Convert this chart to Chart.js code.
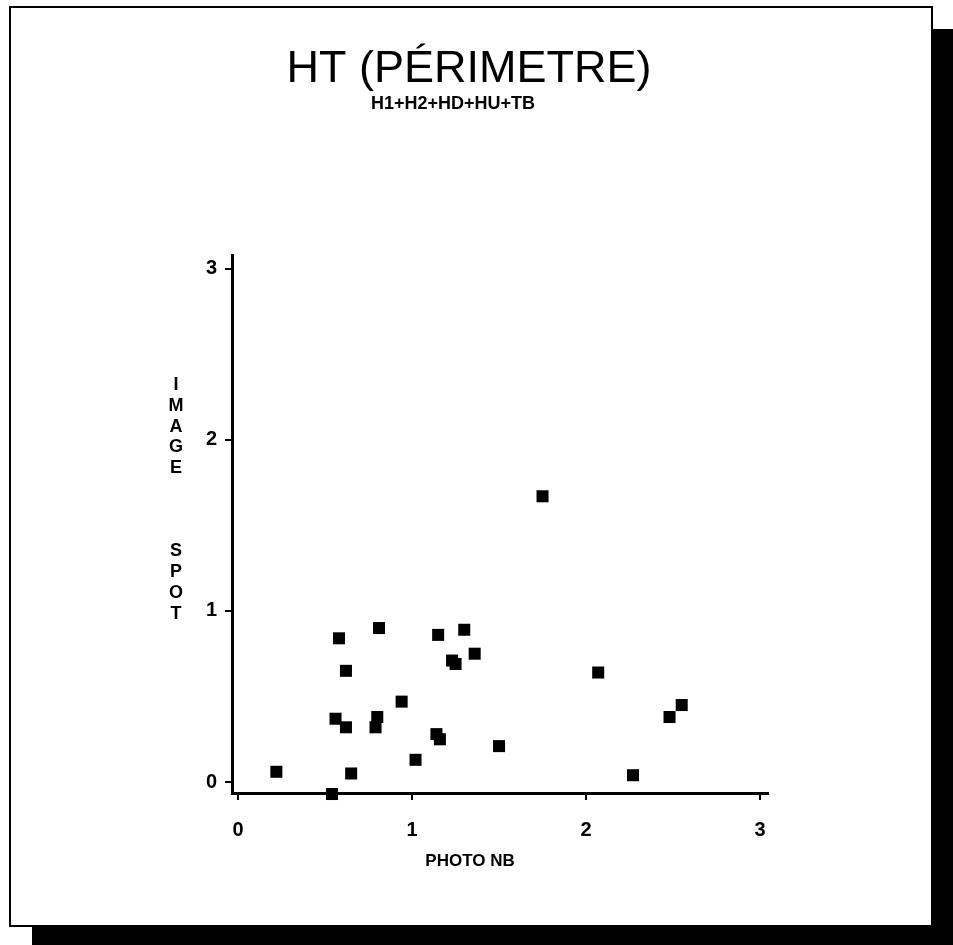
<!DOCTYPE html>
<html>
<head>
<meta charset="utf-8">
<title>HT (PÉRIMETRE)</title>
<script src="https://cdn.jsdelivr.net/npm/chart.js@4.4.1/dist/chart.umd.min.js"></script>
<style>
  html, body { margin: 0; padding: 0; background: #fff; }
  body { width: 953px; height: 945px; position: relative; overflow: hidden; }
  #shadow { position: absolute; left: 32px; top: 29px; width: 921px; height: 916px; background: #000; }
  #frame { position: absolute; left: 9px; top: 6px; width: 920px; height: 917px; border: 2px solid #000; background: #fff; }
  #wrap { position: absolute; left: 0; top: 0; width: 953px; height: 945px; }
</style>
</head>
<body>
<div id="shadow"></div>
<div id="frame"></div>
<div id="wrap"><canvas id="myChart"></canvas></div>
<script>
// values
let photoNB = [0.22, 0.54, 0.65, 0.58, 0.62, 0.56, 0.62, 0.81, 0.80, 0.79, 0.94, 1.02, 1.15,
               1.30, 1.23, 1.25, 1.36, 1.14, 1.16, 1.50, 1.75, 2.07, 2.55, 2.48, 2.27];
let imageSpot = [0.06, -0.07, 0.05, 0.84, 0.65, 0.37, 0.32, 0.90, 0.38, 0.32, 0.47, 0.13, 0.86,
                 0.89, 0.71, 0.69, 0.75, 0.28, 0.25, 0.21, 1.67, 0.64, 0.45, 0.38, 0.04];

let xTicks = [0, 1, 2, 3];
let yTicks = [0, 1, 2, 3];

let titleText = "HT (PÉRIMETRE)";
let subtitleText = "H1+H2+HD+HU+TB";
let xTitle = "PHOTO NB";
let yTitleLines = ["I", "M", "A", "G", "E", "", "", "", "S", "P", "O", "T"];

let ctx = document.getElementById("myChart");
let fontFamily = "'Liberation Sans', Arial, Helvetica, sans-serif";

let points = photoNB.map((x, i) => ({ x: x, y: imageSpot[i] }));

// title, subtitle and the stacked axis labels sit at fixed spots in the original
let textPlugin = {
    id: 'texts',
    afterDraw(chart) {
        let c = chart.ctx;
        c.save();
        c.fillStyle = '#000';
        c.textAlign = 'center';
        c.textBaseline = 'alphabetic';

        c.font = "45px " + fontFamily;
        c.fillText(titleText, 469, 82);

        c.font = "bold 18px " + fontFamily;
        c.fillText(subtitleText, 453, 109);

        c.font = "bold 17px " + fontFamily;
        c.fillText(xTitle, 470, 866);

        c.font = "bold 18px " + fontFamily;
        for (let i = 0; i < yTitleLines.length; i++) {
            c.fillText(yTitleLines[i], 176, 390 + i * 20.8);
        }
        c.restore();
    }
};

let myChart = new Chart(ctx, {
    type: 'scatter',
    data: {
        datasets: [{
            data: points,
            pointStyle: 'rect',
            radius: 8.5,
            backgroundColor: '#000',
            borderWidth: 0,
            clip: false
        }]
    },
    options: {
        responsive: true,
        maintainAspectRatio: false,
        animation: false,
        events: [],
        layout: {
            padding: { left: 0, right: 185, top: 255, bottom: 92 }
        },
        scales: {
            x: {
                type: 'linear',
                min: -0.035,
                max: 3.046,
                afterBuildTicks: (scale) => { scale.ticks = xTicks.map(v => ({ value: v })); },
                afterFit: (scale) => { scale.height = 60; },
                border: { display: true, color: '#000', width: 3 },
                grid: { drawOnChartArea: false, drawTicks: true, color: '#000', lineWidth: 2, tickLength: 7 },
                ticks: {
                    color: '#000',
                    padding: 18,
                    maxRotation: 0,
                    font: { family: fontFamily, size: 20, weight: 'bold' },
                    callback: (v) => String(v)
                }
            },
            y: {
                type: 'linear',
                min: -0.064,
                max: 3.08,
                afterBuildTicks: (scale) => { scale.ticks = yTicks.map(v => ({ value: v })); },
                afterFit: (scale) => { scale.width = 232; },
                border: { display: true, color: '#000', width: 3 },
                grid: { drawOnChartArea: false, drawTicks: true, color: '#000', lineWidth: 2, tickLength: 7 },
                ticks: {
                    color: '#000',
                    padding: 8,
                    font: { family: fontFamily, size: 20, weight: 'bold' },
                    callback: (v) => String(v)
                }
            }
        },
        plugins: {
            legend: { display: false },
            tooltip: { enabled: false }
        }
    },
    plugins: [textPlugin]
});
</script>
</body>
</html>
